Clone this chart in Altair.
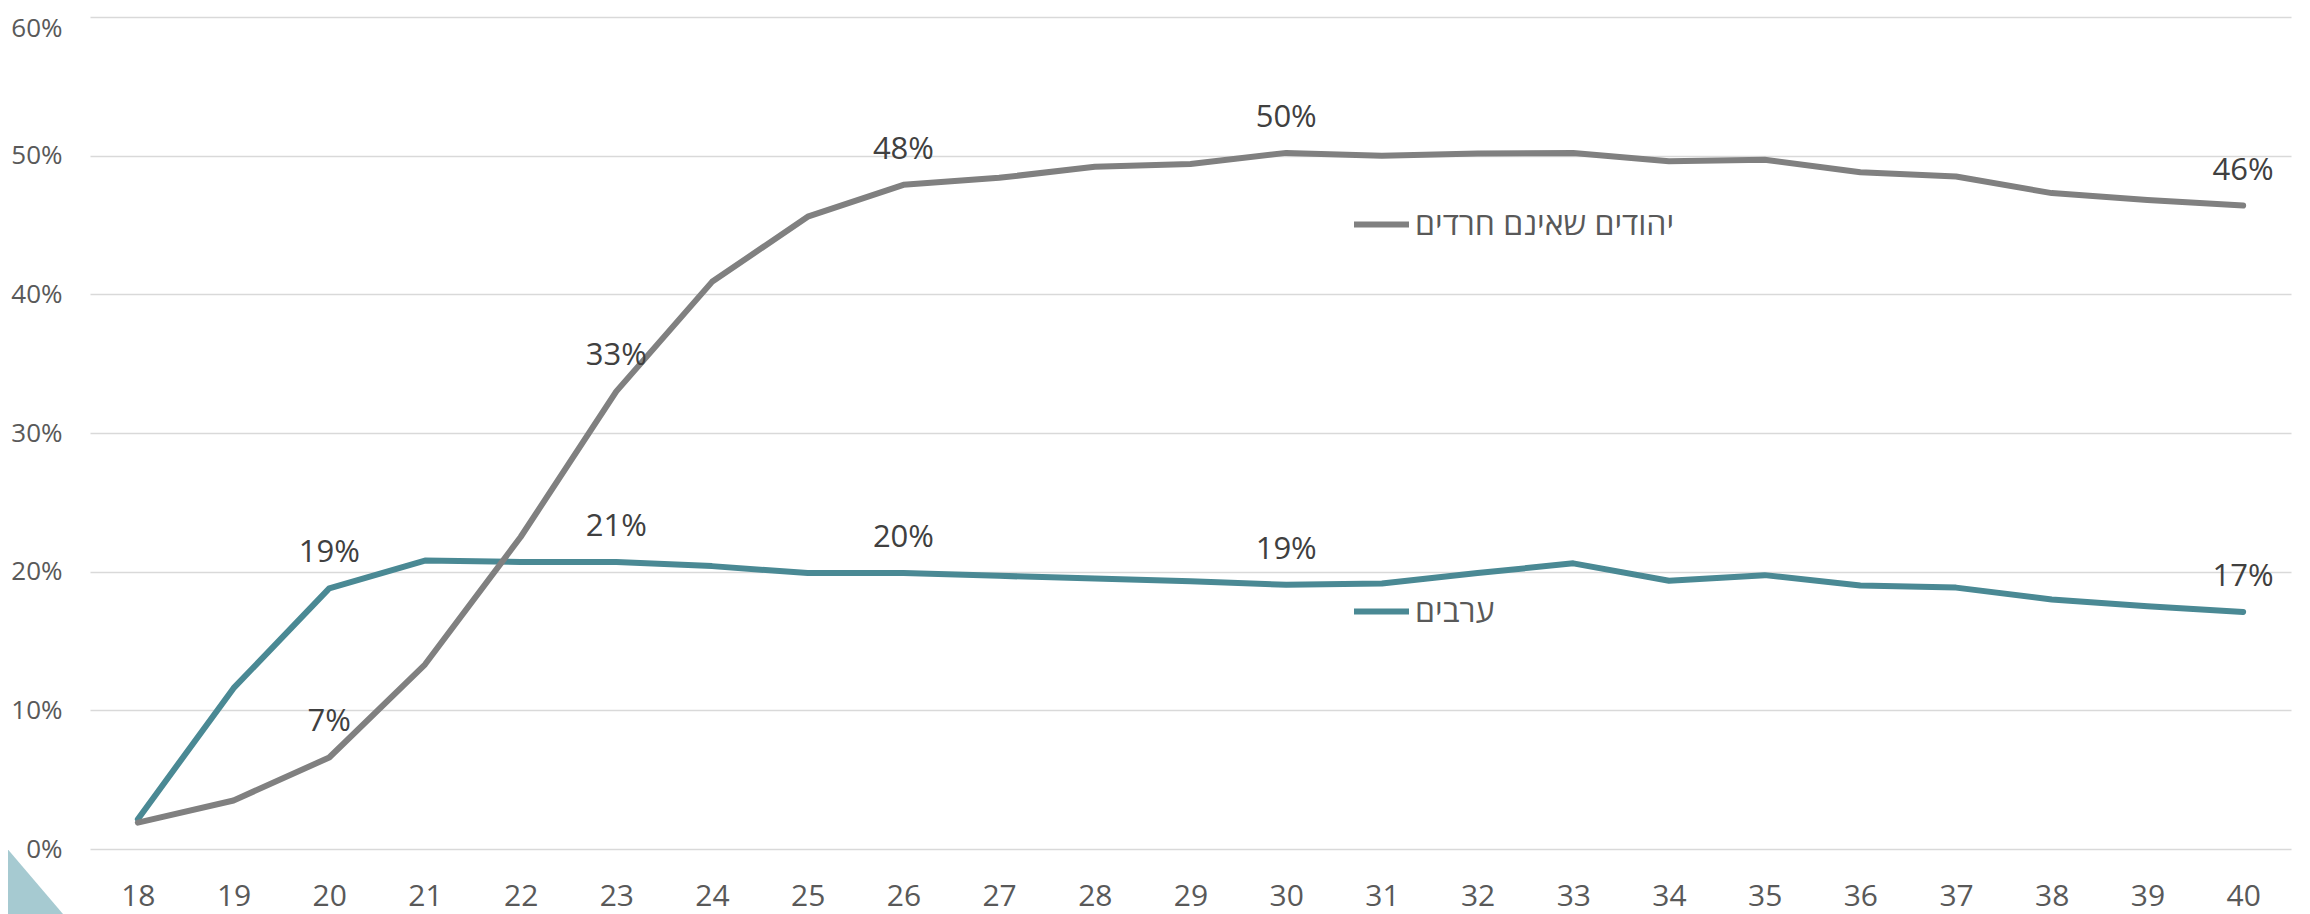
import altair as alt
import pandas as pd

# ---- data ----
ages = [str(a) for a in range(18, 41)]
jews_non_haredi = [1.9, 3.5, 6.6, 13.3, 22.5, 33.0, 40.9, 45.6, 47.9, 48.4, 49.2, 49.4,
                   50.2, 50.0, 50.15, 50.2, 49.6, 49.7, 48.8, 48.5, 47.3, 46.8, 46.4]
arabs = [2.15, 11.6, 18.8, 20.8, 20.7, 20.7, 20.4, 19.9, 19.9, 19.7, 19.5, 19.3,
         19.05, 19.15, 19.9, 20.6, 19.35, 19.75, 19.0, 18.85, 18.0, 17.5, 17.1]
labelled_ages = ["20", "23", "26", "30", "40"]
series_jews = "יהודים שאינם חרדים"
series_arabs = "ערבים"
y_ticks = [0, 0.1, 0.2, 0.3, 0.4, 0.5, 0.6]

rows = []
for name, vals in [(series_jews, jews_non_haredi), (series_arabs, arabs)]:
    for a, v in zip(ages, vals):
        rows.append({"age": a, "series": name, "value": v / 100.0,
                     "label": a in labelled_ages})
df = pd.DataFrame(rows)

FONT = "Open Sans"

x_enc = alt.X("age:N", sort=ages,
              scale=alt.Scale(type="point", padding=0.5),
              axis=alt.Axis(title=None, labelAngle=0, labelFontSize=30,
                            labelColor="#595959", domain=False, ticks=False,
                            grid=False, labelPadding=47, labelBaseline="middle",
                            labelFont=FONT))
y_enc = alt.Y("value:Q",
              scale=alt.Scale(domain=[0, 0.6], nice=False, zero=True),
              axis=alt.Axis(title=None, values=y_ticks, format=".0%",
                            labelFontSize=26, labelColor="#595959",
                            domain=False, ticks=False, tickSize=0,
                            labelPadding=28, grid=True, gridColor="#d9d9d9",
                            gridWidth=1.5, labelFont=FONT,
                            labelOffset={"condition": {"test": "datum.value >= 0.59",
                                                       "value": 11},
                                         "value": 0}))

base = alt.Chart(df)


def legend_at(lx, ly):
    return alt.Legend(title=None, orient="none", legendX=lx, legendY=ly,
                      symbolType="stroke", symbolStrokeWidth=6, symbolSize=3025,
                      labelFontSize=32, labelColor="#595959", labelOffset=3,
                      labelLimit=0, labelFont=FONT, padding=0)


line_arabs = base.transform_filter(alt.datum.series == series_arabs).mark_line(
    strokeWidth=6, strokeCap="round", strokeJoin="round"
).encode(
    x=x_enc, y=y_enc,
    color=alt.Color("series:N",
                    scale=alt.Scale(domain=[series_arabs], range=["#4a8994"]),
                    legend=legend_at(1261, 564))
)

line_jews = base.transform_filter(alt.datum.series == series_jews).mark_line(
    strokeWidth=6, strokeCap="round", strokeJoin="round"
).encode(
    x=x_enc, y=y_enc,
    color=alt.Color("series:N",
                    scale=alt.Scale(domain=[series_jews], range=["#808080"]),
                    legend=legend_at(1261, 177))
)

labels = base.transform_filter(alt.datum.label).mark_text(
    dy=-26, baseline="alphabetic", align="center", fontSize=31,
    color="#404040", font=FONT
).encode(
    x=x_enc, y=y_enc,
    text=alt.Text("value:Q", format=".0%")
)

corner = alt.Chart(pd.DataFrame({"corner": [0]})).mark_point(
    shape="M -0.851 -1 L 0.851 1 L -0.851 1 Z", filled=True,
    color="#a6cad1", opacity=1, size=5476, strokeWidth=0
).encode(x=alt.value(-58.5), y=alt.value(860))

chart = alt.layer(corner, line_arabs, line_jews, labels).resolve_scale(
    color="independent"
).properties(
    width=2201, height=832,
    padding={"left": 82, "top": 9, "right": 10, "bottom": 70},
    autosize=alt.AutoSizeParams(type="none"),
    background="white"
).configure(
    font=FONT,
    view=alt.ViewConfig(stroke="transparent", strokeWidth=0)
)

chart.save("out.html", embed_options={"renderer": "svg", "actions": False})
